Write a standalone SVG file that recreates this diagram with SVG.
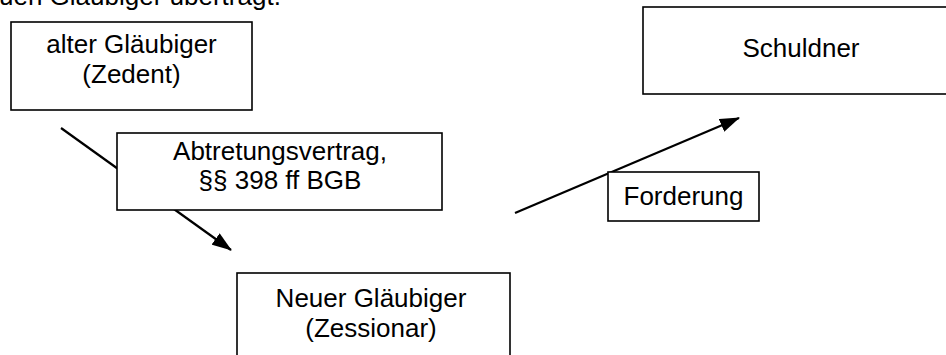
<svg xmlns="http://www.w3.org/2000/svg" width="946" height="355" viewBox="0 0 946 355">
<style>
.box{fill:#fff;stroke:#000;stroke-width:1.6}
.t{font-family:"Liberation Sans",Arial,sans-serif;font-size:26px;fill:#000;text-anchor:middle}
.c{stroke:#000;stroke-width:2.2;fill:none;marker-end:url(#ah)}
</style>
<defs>
<marker id="ah" markerUnits="userSpaceOnUse" markerWidth="20" markerHeight="14" refX="19" refY="7" orient="auto" viewBox="0 0 20 14">
<path d="M0,0 L20,7 L0,14 z" fill="#000"/>
</marker>
</defs>
<text x="-1" y="5" style="font-family:'Liberation Sans',Arial,sans-serif;font-size:26px;fill:#000">uen Gläubiger überträgt.</text>
<g id="connectors">
<line class="c" x1="61" y1="128" x2="231" y2="250"/>
<line class="c" x1="515" y1="213" x2="739" y2="118"/>
</g>
<g id="alter">
<rect class="box" x="11" y="22" width="241" height="88"/>
<text class="t" x="131.5" y="53">alter Gläubiger</text>
<text class="t" x="131.5" y="83">(Zedent)</text>
</g>
<g id="abtretung">
<rect class="box" x="117" y="133" width="325" height="77"/>
<text class="t" x="280" y="160">Abtretungsvertrag,</text>
<text class="t" x="280" y="189">§§ 398 ff BGB</text>
</g>
<g id="neuer">
<rect class="box" x="237" y="273" width="273" height="100"/>
<text class="t" x="371" y="307">Neuer Gläubiger</text>
<text class="t" x="371" y="337">(Zessionar)</text>
</g>
<g id="schuldner">
<rect class="box" x="643" y="7" width="320" height="87"/>
<text class="t" x="801" y="57">Schuldner</text>
</g>
<g id="forderung">
<rect class="box" x="608" y="172" width="151" height="49"/>
<text class="t" x="683.5" y="205">Forderung</text>
</g>
</svg>
